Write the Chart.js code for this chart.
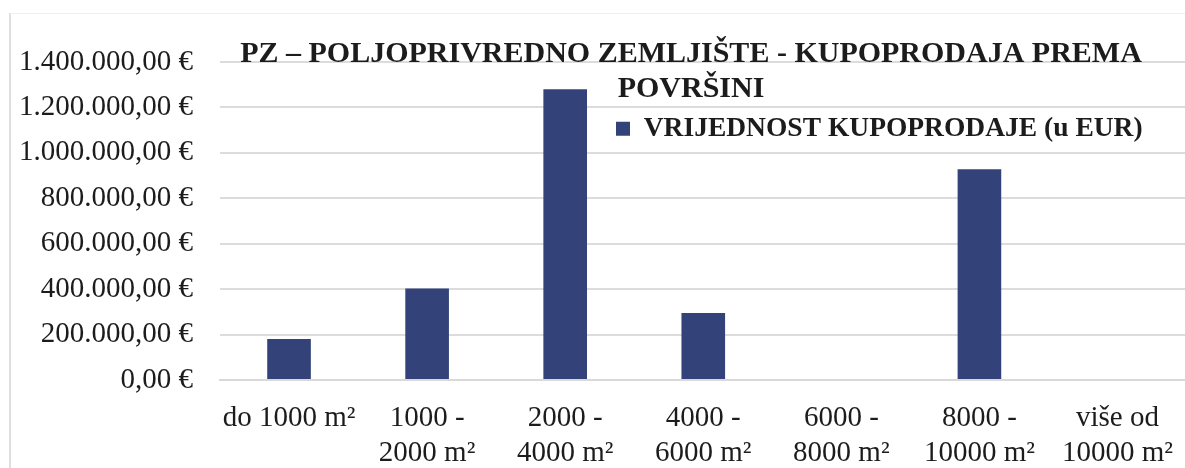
<!DOCTYPE html>
<html>
<head>
<meta charset="utf-8">
<script src="https://cdn.jsdelivr.net/npm/chart.js@4/dist/chart.umd.min.js"></script>
<style>
html,body{margin:0;padding:0;background:#fff;overflow:hidden;width:1185px;height:468px;}
#wrap{position:relative;width:1194px;height:468px;}
#frame{position:absolute;left:9px;top:13px;right:0;bottom:0;border-left:2px solid #dedede;border-top:1px solid #f0f0f0;pointer-events:none;}
canvas{position:absolute;left:0;top:0;}
</style>
</head>
<body>
<div id="wrap"><canvas id="c" width="1194" height="468"></canvas><div id="frame"></div></div>
<script>
// ---- data ----
const categories = [
  'do 1000 m²',
  ['1000 -', '2000 m²'],
  ['2000 -', '4000 m²'],
  ['4000 -', '6000 m²'],
  ['6000 -', '8000 m²'],
  ['8000 -', '10000 m²'],
  ['više od', '10000 m²']
];
const seriesName = 'VRIJEDNOST KUPOPRODAJE (u EUR)';
const values = [181000, 403000, 1280000, 295000, 0, 928000, 0];
const titleLines = ['PZ – POLJOPRIVREDNO ZEMLJIŠTE - KUPOPRODAJA PREMA', 'POVRŠINI'];
const yMin = 0;
const yMax = 1400000;
const yStep = 200000;

function fmtEUR(v) {
  const s = Math.round(v).toString().replace(/\B(?=(\d{3})+(?!\d))/g, '.');
  return s + ',00 €';
}

const serif = "'Liberation Serif', 'Times New Roman', serif";
const textColor = '#1c1c1c';

const placeBlocks = {
  id: 'placeBlocks',
  afterLayout(chart) {
    const t = chart.titleBlock;
    if (t) { t.left = 188; t.right = chart.width; }
    const lg = chart.legend;
    if (lg) { lg.left = 606; lg.top = 105; }
  }
};

new Chart(document.getElementById('c'), {
  type: 'bar',
  data: {
    labels: categories,
    datasets: [{
      label: seriesName,
      data: values,
      backgroundColor: '#33437a',
      borderWidth: 0,
      categoryPercentage: 1,
      barPercentage: 0.316
    }]
  },
  options: {
    responsive: false,
    animation: false,
    devicePixelRatio: 1,
    layout: { padding: 0 },
    plugins: {
      title: {
        display: true,
        text: titleLines,
        color: textColor,
        font: { family: serif, size: 30, weight: 'bold', lineHeight: '35px' },
        padding: { top: 36.5, bottom: -44.5 }
      },
      legend: {
        position: 'chartArea',
        align: 'start',
        labels: {
          boxWidth: 14,
          boxHeight: 14,
          padding: 10,
          color: textColor,
          font: { family: serif, size: 27.5, weight: 'bold' }
        }
      },
      tooltip: { enabled: false }
    },
    scales: {
      x: {
        grid: { display: false, drawTicks: false },
        border: { display: true, color: '#d9d9d9', width: 2 },
        ticks: {
          color: textColor,
          font: { family: serif, size: 29, lineHeight: 1.2 },
          padding: 21,
          maxRotation: 0,
          autoSkip: false
        },
        afterFit(s) { s.height = 88; }
      },
      y: {
        min: yMin,
        max: yMax,
        grid: { color: '#dcdcdc', lineWidth: 2, drawTicks: false },
        border: { display: false },
        ticks: {
          stepSize: yStep,
          padding: 27,
          color: textColor,
          font: { family: serif, size: 29 },
          callback: (v) => fmtEUR(v)
        },
        afterFit(s) { s.width = 220; }
      }
    }
  },
  plugins: [placeBlocks]
});
</script>
</body>
</html>
